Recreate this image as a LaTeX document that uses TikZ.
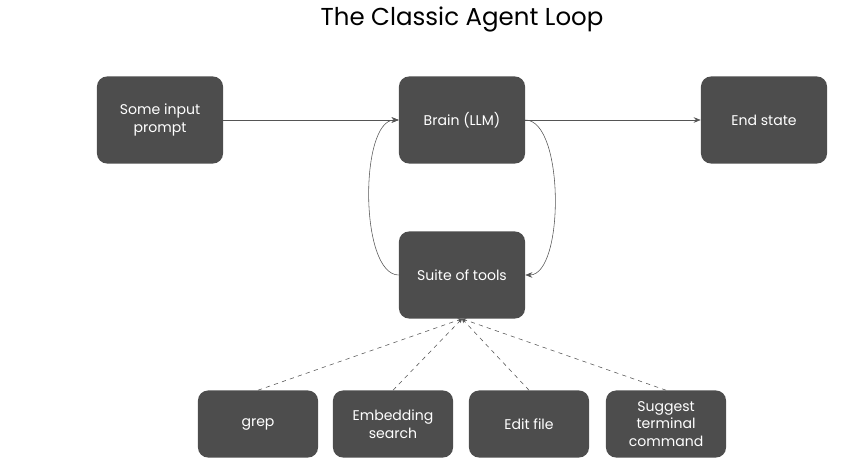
\documentclass[tikz,border=0pt]{standalone}
\usepackage{fontspec}
\setmainfont{Poppins}
\usetikzlibrary{arrows.meta}
\definecolor{boxgray}{HTML}{4D4D4D}
\definecolor{linegray}{HTML}{555555}
\tikzset{
  box/.style={fill=boxgray,rounded corners=0.25cm,text=white,align=center,
    minimum width=3.15cm,minimum height=2.175cm,font=\fontsize{10}{12.5}\selectfont},
  toolbox/.style={box,minimum width=3cm,minimum height=1.675cm},
  flow/.style={draw=linegray,-{Stealth[length=5pt,width=4pt]}},
  toolline/.style={draw=linegray,dashed,-{Stealth[length=3pt,width=3pt]}}
}

\begin{document}
\begin{tikzpicture}[x=0.025cm,y=-0.025cm]
\useasboundingbox (0,0) rectangle (846,460) ;

%title
\node (title) at (462,19) {\fontsize{17.4}{20}\selectfont The Classic Agent Loop} ;

%top row
\node [box] (input) at (160,120) {Some input\\prompt} ;
\node [box] (brain) at (462,120) {Brain (LLM)} ;
\node [box] (end) at (764,120) {End state} ;

%tools
\node [box] (suite) at (462,275) {Suite of tools} ;

\node [toolbox] (grep) at (258,424) {grep} ;
\node [toolbox] (embed) at (393,424) {Embedding\\search} ;
\node [toolbox] (edit) at (529,424) {Edit file} ;
\node [toolbox] (cmd) at (666,424) {Suggest\\terminal\\command} ;

%loop arrows
\draw [flow] (input) -- (brain) ;
\draw [flow] (brain) -- (end) ;
\draw [flow] (brain.east) to [out=0,in=0,looseness=0.65] (suite.east) ;
\draw [flow] (suite.west) to [out=180,in=180,looseness=0.65] (brain.west) ;

%tool lines
\foreach \t in {grep,embed,edit,cmd}
  \draw [toolline] (\t.north) -- (suite.south) ;

\end{tikzpicture}
\end{document}
